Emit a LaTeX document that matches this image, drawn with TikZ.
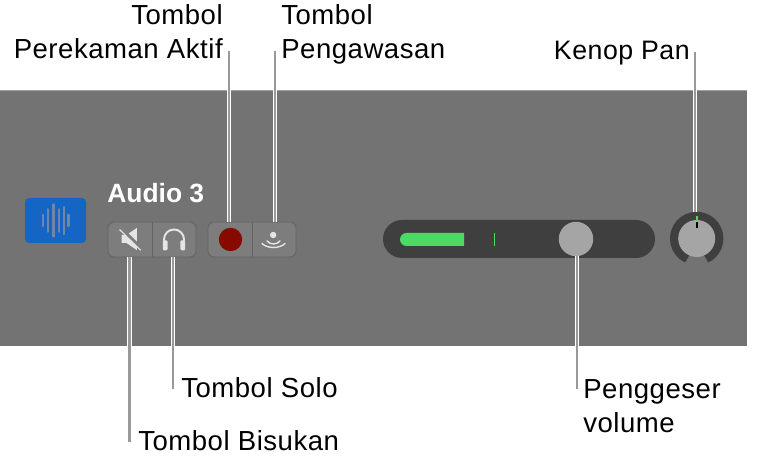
\documentclass[tikz,border=0pt]{standalone}
\usepackage{fontspec}
\setmainfont{Liberation Sans}
\newfontfamily\labelfont[LetterSpace=1.9]{Liberation Sans}
\definecolor{panelgray}{HTML}{737373}
\definecolor{panelline}{HTML}{A0A0A0}
\definecolor{btngray}{HTML}{7D7D7D}
\definecolor{btnedge}{HTML}{636363}
\definecolor{trackgray}{HTML}{3F3F3F}
\definecolor{thumbgray}{HTML}{A5A5A5}
\definecolor{metergreen}{HTML}{4CD964}
\definecolor{iconblue}{HTML}{1565C4}
\definecolor{iconbar}{HTML}{6F86A6}
\definecolor{recred}{HTML}{870A00}
\definecolor{calloutgray}{HTML}{999999}
\tikzset{
  callout/.style={draw=white,line width=0.7pt,double=calloutgray,double distance=1.9pt},
  btngroup/.style={draw=btnedge,fill=btngray,line width=0.6pt,rounded corners=0.15cm,minimum width=2.2cm,minimum height=0.875cm,inner sep=0pt},
  btn/.style={inner sep=0pt,minimum width=1.1cm,minimum height=0.875cm},
  labeltext/.style={font=\fontsize{19.6}{24.6}\labelfont,text=black,inner sep=0pt},
  glyph/.style={draw=white!90!black,line width=1.4pt,line cap=round}
}
\begin{document}
\begin{tikzpicture}
\useasboundingbox (0,0) rectangle (19.075,11.7);

% panel
\fill[panelgray] (0,3.05) rectangle (18.675,9.425);
\draw[panelline,line width=0.7pt] (0,9.425) -- (18.675,9.425);

% track icon
\node[fill=iconblue,rounded corners=0.1cm,minimum width=1.525cm,minimum height=1.125cm,inner sep=0pt] (audioIcon) at (1.3875,6.1875) {};
\foreach \x/\h in {-0.32/0.14,-0.185/0.28,-0.05/0.4,0.08/0.28,0.21/0.34,0.325/0.14}
  \draw[iconbar,line width=1.7pt,line cap=round] ([shift={(\x,-\h)}]audioIcon.center) -- ([shift={(\x,\h)}]audioIcon.center);

\node[anchor=base west,inner sep=0pt,text=white,font=\fontsize{18.8}{22}\selectfont\bfseries] (trackName) at (2.675,6.625) {Audio 3};

% buttons
\node[btngroup] (leftGroup) at (3.8,5.7125) {};
\node[btngroup] (rightGroup) at (6.3,5.7125) {};
\node[btn] (muteBtn) at (3.25,5.7125) {};
\node[btn] (soloBtn) at (4.35,5.7125) {};
\node[btn] (recBtn) at (5.7625,5.7125) {};
\node[btn] (monBtn) at (6.8625,5.7125) {};
\draw[btnedge,line width=0.7pt] (muteBtn.north east) -- (muteBtn.south east);
\draw[btnedge,line width=0.7pt] (recBtn.north east) -- (recBtn.south east);

% mute glyph
\fill[white!90!black] (3.04,5.825) -- (3.16,5.825) -- (3.42,6.0) -- (3.42,5.45) -- (3.16,5.625) -- (3.04,5.625) -- cycle;
\draw[btngray,line width=2.4pt] (3.0,6.02) -- (3.52,5.5);
\draw[white!90!black,line width=0.8pt] (2.99,5.96) -- (3.52,5.44);

% solo glyph
\draw[glyph] ([shift={(-0.25,-0.12)}]soloBtn.center) -- ([shift={(-0.25,0)}]soloBtn.center) arc[start angle=180,end angle=0,radius=0.25] -- ([shift={(0.25,-0.12)}]soloBtn.center);
\fill[white!90!black,rounded corners=0.03cm] ([shift={(-0.28,-0.27)}]soloBtn.center) rectangle ([shift={(-0.16,-0.02)}]soloBtn.center);
\fill[white!90!black,rounded corners=0.03cm] ([shift={(0.16,-0.27)}]soloBtn.center) rectangle ([shift={(0.28,-0.02)}]soloBtn.center);

% record and monitor glyphs
\node[circle,fill=recred,minimum size=0.585cm,inner sep=0pt] (recDot) at (recBtn.center) {};
\node[circle,fill=white!90!black,minimum size=0.16cm,inner sep=0pt] (monDot) at (6.83,5.825) {};
\draw[glyph,line width=1pt] (6.675,5.675) .. controls (6.76,5.575) and (6.915,5.575) .. (7.0,5.675);
\draw[glyph,line width=1pt] (6.55,5.6125) .. controls (6.68,5.48) and (6.995,5.48) .. (7.125,5.6125);

% volume slider
\node[fill=trackgray,rounded corners=0.475cm,minimum width=6.8cm,minimum height=0.95cm,inner sep=0pt] (volTrack) at (12.975,5.725) {};
\fill[metergreen] (11.6,5.55) -- (10.1625,5.55) arc[start angle=270,end angle=90,radius=0.1625] -- (11.6,5.875) -- cycle;
\draw[metergreen,line width=1.4pt] (12.3625,5.55) -- (12.3625,5.875);
\node[circle,fill=thumbgray,minimum size=0.86cm,inner sep=0pt] (volThumb) at (14.4,5.725) {};

% pan knob
\node[circle,minimum size=1.335cm,inner sep=0pt] (panDial) at (17.4175,5.7375) {};
\draw[trackgray,line width=6.1pt] ([shift={(-65:0.56)}]panDial.center) arc[start angle=-65,end angle=245,radius=0.56];
\node[circle,fill=thumbgray,minimum size=0.925cm,inner sep=0pt] (panKnob) at (panDial.center) {};
\draw[metergreen,line width=1.6pt] (17.425,6.3) -- (17.425,6.175);
\draw[black,line width=1.4pt] (17.425,6.1375) -- (17.425,6.0);

% callouts
\coordinate (muteEnd) at (3.2375,0.65);
\coordinate (soloEnd) at (4.325,1.975);
\coordinate (recEnd) at (5.725,10.425);
\coordinate (monEnd) at (6.875,10.425);
\coordinate (panEnd) at (17.375,10.4);
\coordinate (volEnd) at (14.425,1.975);
\draw[callout] (muteBtn.south -| muteEnd) -- (muteEnd);
\draw[callout] (soloBtn.south -| soloEnd) -- (soloEnd);
\draw[callout] (recBtn.north -| recEnd) -- (recEnd);
\draw[callout] (monBtn.north -| monEnd) -- (monEnd);
\draw[callout] (panDial.north -| panEnd) -- (panEnd);
\draw[callout] (volThumb.south -| volEnd) -- (volEnd);

% labels
\node[labeltext,anchor=base east,align=right] (recLabel) at (5.575,10.225) {Tombol\\Perekaman Aktif};
\node[labeltext,anchor=base west,align=left] (monLabel) at (7.025,10.225) {Tombol\\Pengawasan};
\node[labeltext,anchor=base east,font=\fontsize{19}{24.6}\labelfont] (panLabel) at (17.25,10.2) {Kenop Pan};
\node[labeltext,anchor=base west] (soloLabel) at (4.525,1.75) {Tombol Solo};
\node[labeltext,anchor=base west] (muteLabel) at (3.45,0.425) {Tombol Bisukan};
\node[labeltext,anchor=base west,align=left] (volLabel) at (14.575,0.875) {Penggeser\\volume};
\end{tikzpicture}
\end{document}
